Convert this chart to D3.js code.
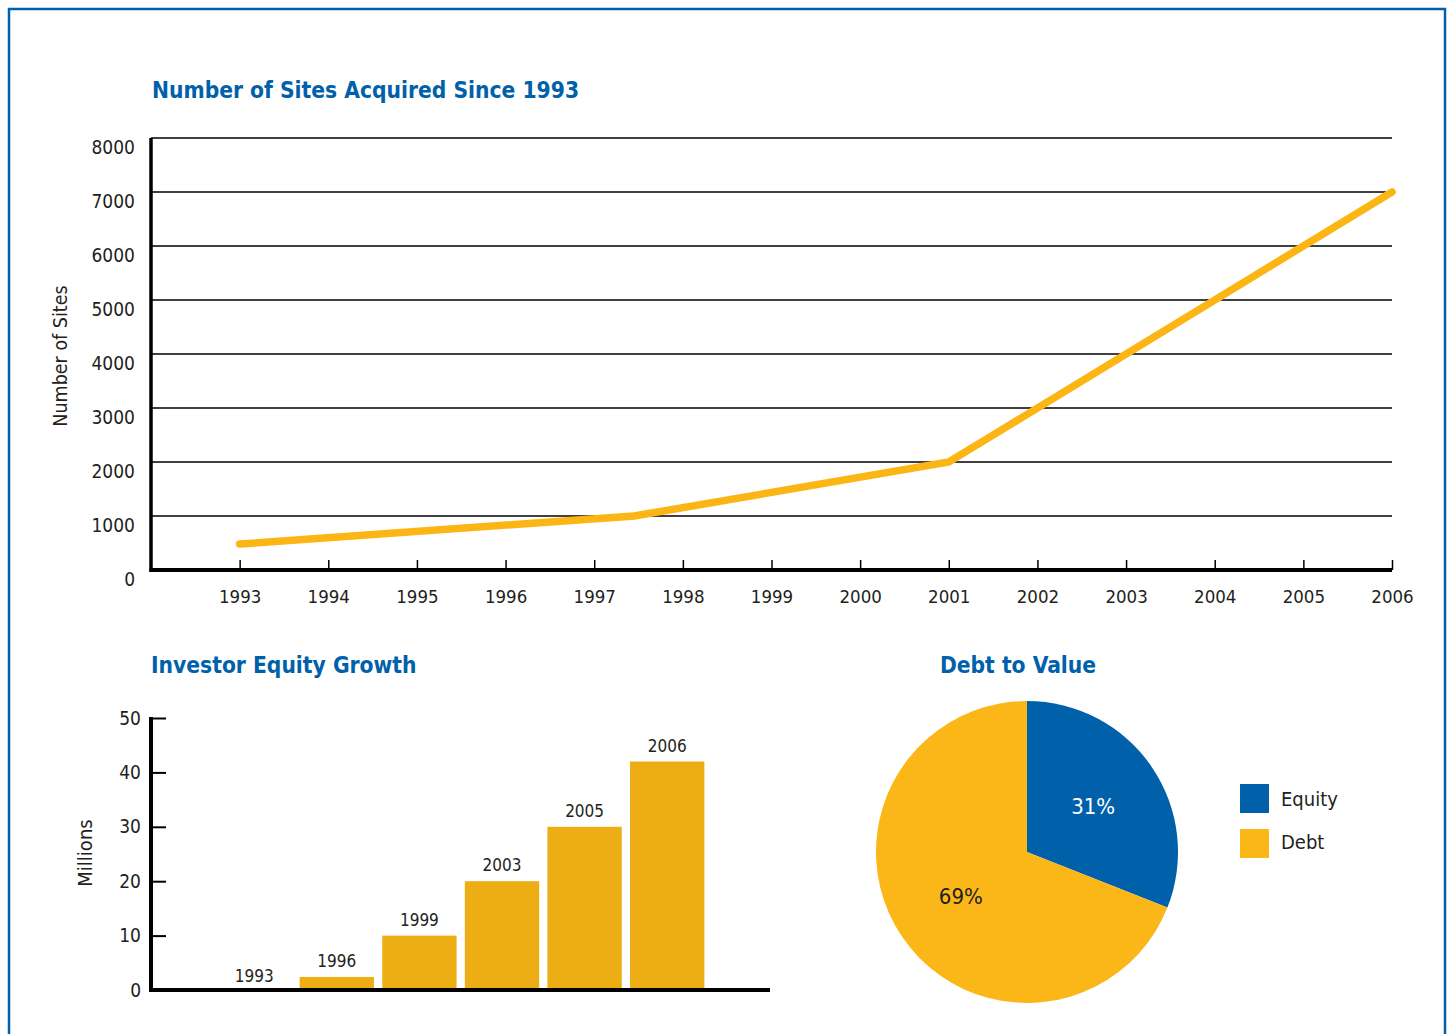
<!DOCTYPE html>
<html>
<head>
    <title>Sites, Equity and Debt to Value</title>
    <script src="https://d3js.org/d3.v7.min.js"></script>
    <style>
        body {
            margin: 0;
            background: #fff;
            font-family: "DejaVu Sans Condensed", "DejaVu Sans", sans-serif;
        }
        svg text {
            font-family: "DejaVu Sans Condensed", "DejaVu Sans", sans-serif;
            fill: #231f20;
        }
        .title {
            font-weight: bold;
            font-size: 22.6px;
            fill: #0061aa !important;
        }
    </style>
</head>
<body>
    <svg id="chart" width="1450" height="1034"></svg>

    <script>
        // line chart: number of sites
        const siteYears = [1993, 1997.45, 2001, 2006];
        const siteCounts = [480, 1000, 2000, 7000];
        const yearTicks = [1993, 1994, 1995, 1996, 1997, 1998, 1999, 2000, 2001, 2002, 2003, 2004, 2005, 2006];
        const siteTicks = [0, 1000, 2000, 3000, 4000, 5000, 6000, 7000, 8000];

        // bar chart: investor equity growth
        const equityYears = ["1993", "1996", "1999", "2003", "2005", "2006"];
        const equityMillions = [0, 2.4, 10, 20, 30, 42];
        const equityTicks = [0, 10, 20, 30, 40, 50];

        // pie: debt to value
        const pieNames = ["Equity", "Debt"];
        const pieShares = [31, 69];

        const blue = "#0061aa";
        const lineYellow = "#fbb615";
        const barYellow = "#edad15";
        const pieColors = [blue, "#fbb718"];

        const svg = d3.select("#chart");

        // outer frame
        svg.append("rect")
            .attr("x", 9).attr("y", 9)
            .attr("width", 1436).attr("height", 1060)
            .attr("fill", "none")
            .attr("stroke", blue)
            .attr("stroke-width", 2.5);

        // ---------- line chart ----------
        const x = d3.scaleLinear().domain([1992, 2006]).range([151, 1392]);
        const y = d3.scaleLinear().domain([0, 8000]).range([570, 138]);

        svg.append("text").attr("class", "title")
            .attr("x", 152).attr("y", 98)
            .text("Number of Sites Acquired Since 1993");

        svg.append("g")
            .selectAll("line")
            .data(siteTicks.filter(d => d > 0))
            .join("line")
            .attr("x1", x(1992)).attr("x2", x(2006))
            .attr("y1", d => y(d)).attr("y2", d => y(d))
            .attr("stroke", "#000").attr("stroke-width", 1.5);

        const yAxis = svg.append("g")
            .attr("transform", `translate(${x(1992)},0)`)
            .call(d3.axisLeft(y).tickValues(siteTicks).tickFormat(d3.format("d")).tickSize(0).tickPadding(16));
        yAxis.select(".domain").remove();
        yAxis.selectAll("text")
            .attr("transform", "translate(0,9)")
            .style("font-size", "19px");

        const xAxis = svg.append("g")
            .attr("transform", `translate(0,${y(0)})`)
            .call(d3.axisBottom(x).tickValues(yearTicks).tickFormat(d3.format("d")).tickSize(-10).tickPadding(20));
        xAxis.select(".domain").remove();
        xAxis.selectAll(".tick line").attr("stroke", "#000").attr("stroke-width", 1.5);
        xAxis.selectAll("text").style("font-size", "18.5px");

        svg.append("line")
            .attr("x1", x(1992)).attr("x2", x(1992))
            .attr("y1", y(8000)).attr("y2", y(0) + 2)
            .attr("stroke", "#000").attr("stroke-width", 3.5);
        svg.append("line")
            .attr("x1", x(1992) - 1.5).attr("x2", x(2006))
            .attr("y1", y(0)).attr("y2", y(0))
            .attr("stroke", "#000").attr("stroke-width", 4);

        svg.append("text")
            .attr("transform", `translate(67,${(y(0) + y(8000)) / 2 + 2}) rotate(-90)`)
            .attr("text-anchor", "middle")
            .style("font-size", "19.5px")
            .text("Number of Sites");

        const line = d3.line()
            .x((d, i) => x(siteYears[i]))
            .y(d => y(d));

        svg.append("path")
            .datum(siteCounts)
            .attr("d", line)
            .attr("fill", "none")
            .attr("stroke", lineYellow)
            .attr("stroke-width", 7.5)
            .attr("stroke-linecap", "round");

        // ---------- bar chart ----------
        const bx = d3.scaleBand().domain(equityYears).range([212.9, 708.5]).paddingInner(0.1).paddingOuter(0.05);
        const by = d3.scaleLinear().domain([0, 50]).range([990, 718]);

        svg.append("text").attr("class", "title")
            .attr("x", 151).attr("y", 673)
            .text("Investor Equity Growth");

        svg.append("g")
            .selectAll("rect")
            .data(equityMillions)
            .join("rect")
            .attr("x", (d, i) => bx(equityYears[i]))
            .attr("width", bx.bandwidth())
            .attr("y", d => by(d))
            .attr("height", d => by(0) - by(d))
            .attr("fill", barYellow);

        svg.append("g")
            .selectAll("text")
            .data(equityMillions)
            .join("text")
            .attr("x", (d, i) => bx(equityYears[i]) + bx.bandwidth() / 2)
            .attr("y", d => by(d) - (d === 0 ? 8 : 10))
            .attr("text-anchor", "middle")
            .style("font-size", "17px")
            .text((d, i) => equityYears[i]);

        const byAxis = svg.append("g")
            .attr("transform", "translate(151,0)")
            .call(d3.axisLeft(by).tickValues(equityTicks).tickSize(-15).tickPadding(10));
        byAxis.select(".domain").remove();
        byAxis.selectAll(".tick line").attr("stroke", "#000").attr("stroke-width", 2);
        byAxis.selectAll("text").style("font-size", "19px");

        svg.append("line")
            .attr("x1", 151).attr("x2", 151)
            .attr("y1", by(50) - 1).attr("y2", by(0) + 2)
            .attr("stroke", "#000").attr("stroke-width", 4);
        svg.append("line")
            .attr("x1", 149).attr("x2", 770)
            .attr("y1", by(0)).attr("y2", by(0))
            .attr("stroke", "#000").attr("stroke-width", 4);

        svg.append("text")
            .attr("transform", `translate(92,853) rotate(-90)`)
            .attr("text-anchor", "middle")
            .style("font-size", "20px")
            .text("Millions");

        // ---------- pie ----------
        const cx = 1027, cy = 852, r = 151;

        svg.append("text").attr("class", "title")
            .attr("x", 1018).attr("y", 673)
            .attr("text-anchor", "middle")
            .text("Debt to Value");

        const pie = d3.pie().sort(null);
        const arcs = pie(pieShares);
        const arc = d3.arc().innerRadius(0).outerRadius(r);
        const labelArc = d3.arc().innerRadius(80).outerRadius(80);

        const pg = svg.append("g").attr("transform", `translate(${cx},${cy})`);
        pg.selectAll("path")
            .data(arcs)
            .join("path")
            .attr("d", arc)
            .attr("fill", (d, i) => pieColors[i]);

        pg.selectAll("text")
            .data(arcs)
            .join("text")
            .attr("transform", d => `translate(${labelArc.centroid(d)})`)
            .attr("text-anchor", "middle")
            .attr("dy", "0.3em")
            .style("font-size", "22px")
            .style("fill", (d, i) => i === 0 ? "#fff" : "#231f20")
            .text(d => d.data + "%");

        // legend
        const lg = svg.append("g").attr("transform", "translate(1240,784)");
        lg.selectAll("rect")
            .data(pieNames)
            .join("rect")
            .attr("x", 0)
            .attr("y", (d, i) => i * 45)
            .attr("width", 29).attr("height", 29)
            .attr("fill", (d, i) => pieColors[i]);
        lg.selectAll("text")
            .data(pieNames)
            .join("text")
            .attr("x", 41)
            .attr("y", (d, i) => i * 43 + 16)
            .attr("dy", "0.3em")
            .style("font-size", "20px")
            .text(d => d);
    </script>
</body>
</html>
